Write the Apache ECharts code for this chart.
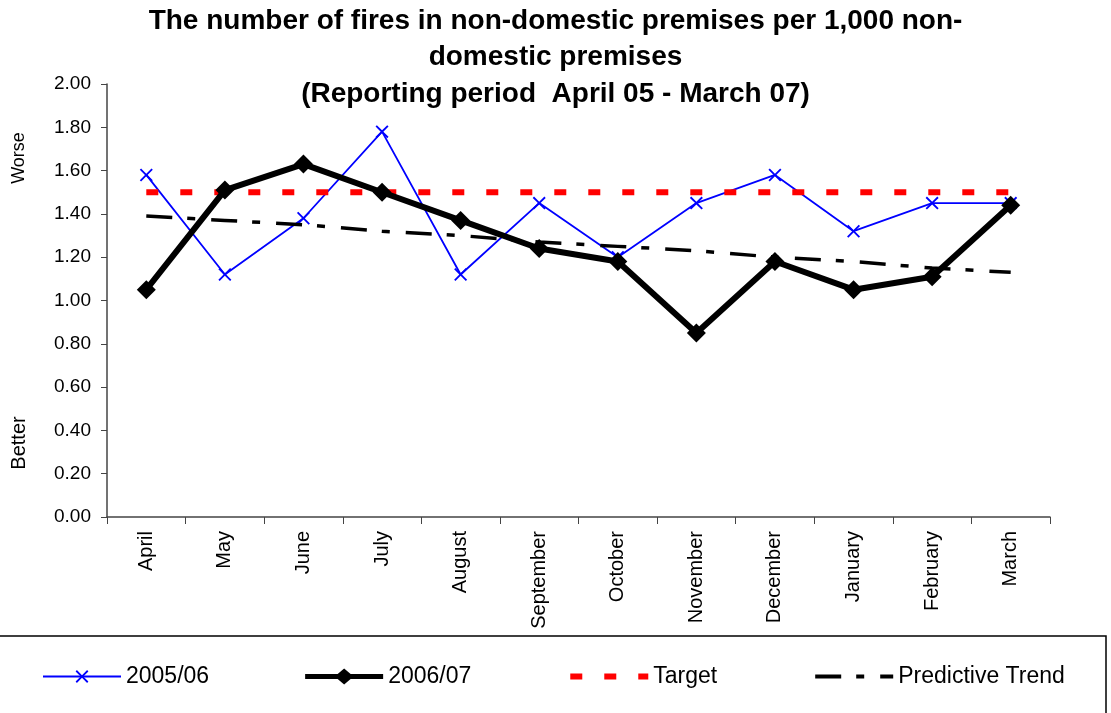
<!DOCTYPE html>
<html>
<head>
<meta charset="utf-8">
<title>Fires in non-domestic premises</title>
<script src="https://cdn.jsdelivr.net/npm/echarts@6/dist/echarts.min.js"></script>
<style>
  html, body { margin: 0; padding: 0; background: #fff; }
  #chart { width: 1111px; height: 713px; }
</style>
</head>
<body>
<div id="chart"></div>
<script>
// months of the reporting year
var months = ['April', 'May', 'June', 'July', 'August', 'September', 'October', 'November', 'December', 'January', 'February', 'March']
// fires per 1,000 premises
var year0506 = [1.58, 1.12, 1.38, 1.78, 1.12, 1.45, 1.20, 1.45, 1.58, 1.32, 1.45, 1.45]
var year0607 = [1.05, 1.51, 1.63, 1.50, 1.37, 1.24, 1.18, 0.85, 1.18, 1.05, 1.11, 1.44]
var target = [1.50, 1.50, 1.50, 1.50, 1.50, 1.50, 1.50, 1.50, 1.50, 1.50, 1.50, 1.50]
var trend = [1.39, 1.37, 1.35, 1.32, 1.30, 1.27, 1.25, 1.23, 1.20, 1.18, 1.15, 1.13]

var font = 'Liberation Sans, Arial, sans-serif'
// thin "x" marker
var crossPath = 'path://M0,1 L1,0 L5,4 L9,0 L10,1 L6,5 L10,9 L9,10 L5,6 L1,10 L0,9 L4,5 Z'
// legend icon for 2006/07: thick bar with a diamond in the middle (78 x 16 box)
var barDiamond = 'path://M0,5.5 L32.5,5.5 L39,0 L45.5,5.5 L78,5.5 L78,10.5 L45.5,10.5 L39,16 L32.5,10.5 L0,10.5 Z'

var chart = echarts.init(document.getElementById('chart'))
chart.setOption({
  animation: false,
  title: {
    text: 'The number of fires in non-domestic premises per 1,000 non-\ndomestic premises\n(Reporting period  April 05 - March 07)',
    left: 'center',
    top: -2,
    textStyle: {
      fontFamily: font,
      fontWeight: 'bold',
      fontSize: 28,
      lineHeight: 36.5,
      color: '#000'
    }
  },
  grid: {
    left: 107,
    right: 61,
    top: 84,
    bottom: 196
  },
  legend: {
    data: [
      { name: '2005/06', lineStyle: { width: 2 } },
      { name: '2006/07', icon: barDiamond },
      { name: 'Target', itemStyle: { opacity: 0 }, lineStyle: { width: 6, type: [12, 22] } },
      { name: 'Predictive Trend', itemStyle: { opacity: 0 }, lineStyle: { width: 4, type: [26, 15, 8, 16] } }
    ],
    left: 37,
    top: 660,
    itemWidth: 78,
    itemHeight: 16,
    itemGap: 96,
    textStyle: {
      fontFamily: font,
      fontSize: 23,
      color: '#000'
    }
  },
  graphic: [
    {
      type: 'rect',
      shape: { x: -1, y: 636, width: 1107, height: 100 },
      style: { fill: 'none', stroke: '#000', lineWidth: 1.5 }
    },
    {
      type: 'text',
      x: 19,
      y: 158,
      rotation: Math.PI / 2,
      style: { text: 'Worse', font: '18px ' + font, fill: '#000', align: 'center', verticalAlign: 'middle' }
    },
    {
      type: 'text',
      x: 19,
      y: 443,
      rotation: Math.PI / 2,
      style: { text: 'Better', font: '20px ' + font, fill: '#000', align: 'center', verticalAlign: 'middle' }
    }
  ],
  xAxis: {
    type: 'category',
    boundaryGap: true,
    data: months,
    axisLine: { lineStyle: { color: '#444', width: 1.5 } },
    axisTick: { show: true, length: 7, lineStyle: { color: '#444' } },
    axisLabel: {
      rotate: 90,
      margin: 14,
      fontFamily: font,
      fontSize: 20,
      color: '#000'
    }
  },
  yAxis: {
    type: 'value',
    min: 0,
    max: 2,
    interval: 0.2,
    splitLine: { show: false },
    axisLine: { show: true, lineStyle: { color: '#444', width: 1.5 } },
    axisTick: { show: true, length: 6, lineStyle: { color: '#444' } },
    axisLabel: {
      margin: 16,
      fontFamily: font,
      fontSize: 19,
      color: '#000',
      formatter: function (v) { return v.toFixed(2) }
    }
  },
  series: [
    {
      name: '2005/06',
      type: 'line',
      data: year0506,
      z: 2,
      symbol: crossPath,
      symbolSize: 13,
      color: '#0000ff',
      lineStyle: { color: '#0000ff', width: 1.8 }
    },
    {
      name: '2006/07',
      type: 'line',
      data: year0607,
      z: 5,
      symbol: 'diamond',
      symbolSize: 19,
      color: '#000',
      lineStyle: { color: '#000', width: 6 }
    },
    {
      name: 'Target',
      type: 'line',
      data: target,
      z: 3,
      showSymbol: false,
      symbol: 'none',
      color: '#ff0000',
      lineStyle: { color: '#ff0000', width: 6, type: [12, 22] }
    },
    {
      name: 'Predictive Trend',
      type: 'line',
      data: trend,
      z: 4,
      showSymbol: false,
      symbol: 'none',
      color: '#000',
      lineStyle: { color: '#000', width: 3.5, type: [26, 15, 8, 16] }
    }
  ]
})
</script>
</body>
</html>
